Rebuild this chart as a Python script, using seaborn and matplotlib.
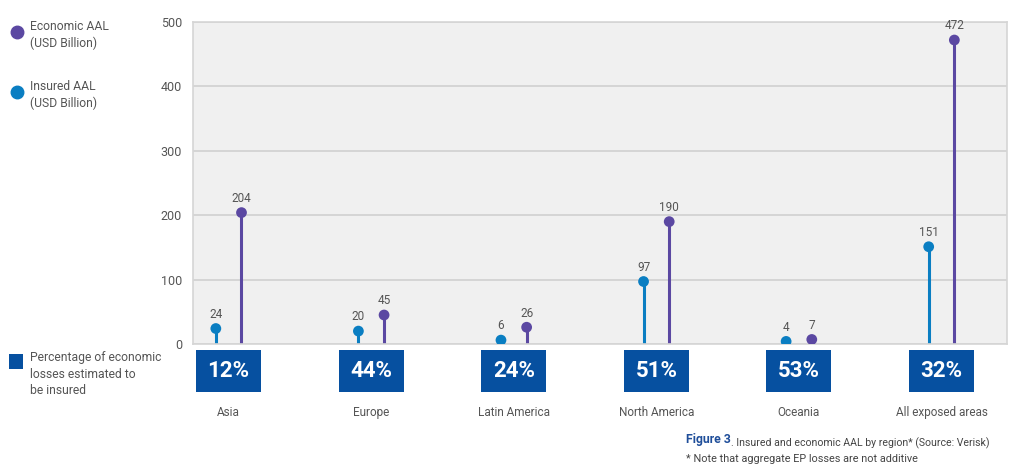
import numpy as np
import pandas as pd
import matplotlib.pyplot as plt
import seaborn as sns
from matplotlib.lines import Line2D
from matplotlib.patches import Rectangle

# data
regions = ['Asia', 'Europe', 'Latin America', 'North America', 'Oceania', 'All exposed areas']
insured = [24, 20, 6, 97, 4, 151]
economic = [204, 45, 26, 190, 7, 472]
pct_insured = ['12%', '44%', '24%', '51%', '53%', '32%']

c_econ = '#5B48A2'
c_ins = '#0A7EC2'
c_box = '#0650A0'
c_text = '#555555'

sns.set_style('white')
plt.rcParams['font.family'] = ['Roboto', 'DejaVu Sans']

df = pd.DataFrame({
    'x': np.concatenate([np.arange(6) - 0.09, np.arange(6) + 0.09]),
    'value': insured + economic,
    'series': ['Insured'] * 6 + ['Economic'] * 6,
})

fig = plt.figure(figsize=(10.24, 4.68), dpi=100)
ax = fig.add_axes([0.1885, 0.265, 0.795, 0.688])
ax.set_facecolor('#F0F0F0')

# stems + value labels
for _, r in df.iterrows():
    col = c_ins if r['series'] == 'Insured' else c_econ
    ax.vlines(r['x'], 0, r['value'], color=col, linewidth=2.2, zorder=2)
    ax.text(r['x'], r['value'] + 12, f"{r['value']:g}", ha='center', va='bottom',
            fontsize=8.5, color=c_text)

sns.scatterplot(data=df, x='x', y='value', hue='series',
                palette={'Insured': c_ins, 'Economic': c_econ},
                s=60, edgecolor='none', legend=False, zorder=3, ax=ax)

ax.set_xlim(-0.25, 5.46)
ax.set_ylim(0, 500)
ax.set_yticks([0, 100, 200, 300, 400, 500])
ax.yaxis.grid(True, color='#D0D0D0', linewidth=1.2)
ax.set_axisbelow(True)
ax.tick_params(axis='y', length=0, labelsize=9, labelcolor=c_text, pad=8)
ax.set_xlabel('')
ax.set_ylabel('')

# band separators along the baseline
x0, x1 = ax.get_xlim()
ax.set_xticks(np.linspace(x0, x1, 8)[1:-1])
ax.set_xticklabels([])
ax.tick_params(axis='x', direction='in', length=7, color='#CCCCCC', width=1)

for s in ax.spines.values():
    s.set_color('#D5D5D5')
    s.set_linewidth(1.2)

# percentage boxes and region labels under the axis
for i, (reg, p) in enumerate(zip(regions, pct_insured)):
    ax.add_patch(Rectangle((i - 0.228, -74.5), 0.456, 65, facecolor=c_box,
                           edgecolor='none', clip_on=False))
    ax.text(i, -42, p, ha='center', va='center', color='white', fontsize=16,
            fontweight='bold', clip_on=False)
    ax.text(i, -107, reg, ha='center', va='center', color=c_text, fontsize=8.5,
            clip_on=False)

# legend in left margin
fig.add_artist(Line2D([0.0166], [1 - 32 / 468], marker='o', markersize=9,
                      color=c_econ, linestyle='none', transform=fig.transFigure))
fig.text(0.0293, 1 - 35 / 468, 'Economic AAL\n(USD Billion)', fontsize=8.7,
         color=c_text, va='center', linespacing=1.3)
fig.add_artist(Line2D([0.0166], [1 - 92 / 468], marker='o', markersize=9,
                      color=c_ins, linestyle='none', transform=fig.transFigure))
fig.text(0.0293, 1 - 95 / 468, 'Insured AAL\n(USD Billion)', fontsize=8.7,
         color=c_text, va='center', linespacing=1.3)
fig.add_artist(Rectangle((0.0085, 1 - 369 / 468), 0.0137, 15 / 468,
                         facecolor=c_box, edgecolor='none', transform=fig.transFigure))
fig.text(0.0293, 1 - 374 / 468, 'Percentage of economic\nlosses estimated to\nbe insured',
         fontsize=8.7, color=c_text, va='center', linespacing=1.3)

# caption
t = fig.text(0.670, 1 - 443 / 468, 'Figure 3', fontsize=8.8, fontweight='bold',
             color='#1F4E9A', va='baseline')
fig.text(0, 0, '', alpha=0)
ax.annotate('. Insured and economic AAL by region* (Source: Verisk)',
            xy=(1, 0), xycoords=t, va='baseline', ha='left',
            fontsize=7.6, color='#444444', annotation_clip=False)
fig.text(0.670, 1 - 462 / 468, '* Note that aggregate EP losses are not additive',
         fontsize=7.8, color='#444444', va='baseline')

fig.savefig('out.png', dpi=100)
